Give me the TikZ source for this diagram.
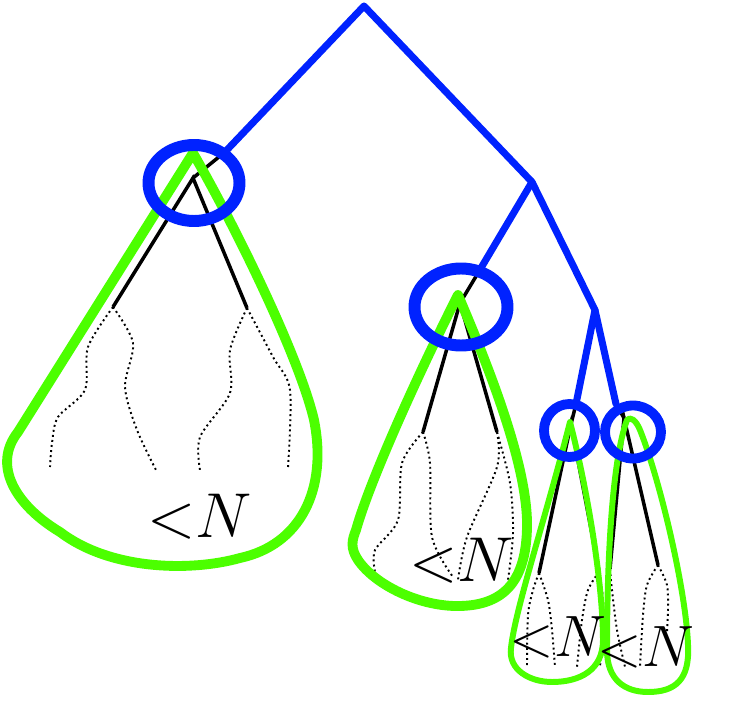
\documentclass[tikz,border=0pt]{standalone}
\definecolor{tblue}{RGB}{0,34,255}
\definecolor{tgreen}{RGB}{76,255,0}
\tikzset{
  blueline/.style={tblue, line width=4pt, line cap=round, line join=round},
  ring/.style={tblue, line width=6.8pt},
  smallring/.style={tblue, line width=5.6pt},
  blackline/.style={black, line width=2pt},
  dotline/.style={black, line width=1.1pt, dash pattern=on 1.1pt off 1.8pt},
  bigbag/.style={tgreen, line width=5.6pt, line join=round},
  smallbag/.style={tgreen, line width=3.4pt, line join=round},
  lbl/.style={inner sep=0pt, scale=1.45, font=\Huge},
}
\begin{document}
\begin{tikzpicture}[x=0.02cm,y=-0.02cm]
\useasboundingbox (0,0) rectangle (731,706);
% blue skeleton points
\coordinate (r) at (364,6);
\coordinate (bA) at (225,152);
\coordinate (bR) at (532,182);
\coordinate (bB) at (481,268);
\coordinate (bS) at (595,310);
\coordinate (bC) at (576,404);
\coordinate (bD) at (616,404);
% black tree apices and leaves
\coordinate (a1) at (193,178);
\coordinate (l1a) at (113,307);
\coordinate (l1b) at (247,308);
\coordinate (a2) at (460,303);
\coordinate (l2a) at (423,432);
\coordinate (l2b) at (497,432);
\coordinate (a3) at (571,424);
\coordinate (l3a) at (539,573);
\coordinate (l3b) at (599,571);
\coordinate (a4) at (624,418);
\coordinate (l4a) at (610,569);
\coordinate (l4b) at (658,565);

% dotted subtrees
\draw[dotline] plot[smooth] coordinates {(113,307) (88,347) (85,390) (58,417) (52,443) (50,467)};
\draw[dotline] plot[smooth] coordinates {(113,307) (133,343) (125,387) (137,430) (157,472)};
\draw[dotline] plot[smooth] coordinates {(247,308) (230,350) (230,393) (200,437) (200,470)};
\draw[dotline] plot[smooth] coordinates {(247,308) (273,357) (290,390) (288,468)};
\draw[dotline] plot[smooth] coordinates {(423,432) (402,463) (398,520) (375,550) (375,572)};
\draw[dotline] plot[smooth] coordinates {(423,432) (430,463) (432,537) (453,577)};
\draw[dotline] plot[smooth] coordinates {(497,432) (497,467) (467,537) (458,580)};
\draw[dotline] plot[smooth] coordinates {(497,432) (510,483) (513,533) (508,580)};
\draw[dotline] plot[smooth] coordinates {(539,573) (533,590) (528,615) (527,665)};
\draw[dotline] plot[smooth] coordinates {(539,573) (548,600) (552,630) (555,667)};
\draw[dotline] plot[smooth] coordinates {(599,572) (588,590) (582,620) (577,667)};
\draw[dotline] plot[smooth] coordinates {(599,572) (603,600) (602,640) (600,667)};
\draw[dotline] plot[smooth] coordinates {(610,569) (612,590) (617,630) (625,667)};
\draw[dotline] plot[smooth] coordinates {(610,569) (606,610) (608,667)};
\draw[dotline] plot[smooth] coordinates {(658,565) (647,585) (643,615) (640,667)};
\draw[dotline] plot[smooth] coordinates {(658,565) (667,585) (668,610) (667,632)};

% black trees
\draw[blackline] (bA) -- (a1);
\draw[blackline] (l1a) -- (a1) -- (l1b);
\draw[blackline] (bB) -- (a2);
\draw[blackline] (l2a) -- (a2) -- (l2b);
\draw[blackline] (bC) -- (a3);
\draw[blackline] (l3a) -- (a3) -- (l3b);
\draw[blackline] (bD) -- (a4);
\draw[blackline] (l4a) -- (a4) -- (l4b);

% green bags
\draw[bigbag] (193,153) .. controls (240,235) and (300,360) .. (314,420)
  .. controls (328,490) and (300,545) .. (240,558)
  .. controls (190,572) and (110,570) .. (60,532)
  .. controls (15,505) and (-8,465) .. (18,432) -- cycle;
\draw[bigbag] (458,295) .. controls (490,370) and (525,460) .. (527,520)
  .. controls (528,580) and (505,605) .. (460,606)
  .. controls (420,607) and (375,585) .. (358,560)
  .. controls (350,548) and (352,540) .. (356,530)
  .. controls (370,480) and (420,370) .. cycle;
\draw[smallbag] (570,422) .. controls (545,520) and (515,610) .. (511,648)
  .. controls (508,670) and (530,682) .. (552,682)
  .. controls (580,682) and (603,670) .. (603,640)
  .. controls (603,590) and (590,500) .. cycle;
\draw[smallbag] (627,420) .. controls (612,460) and (607,560) .. (607,650)
  .. controls (607,680) and (625,692) .. (648,692)
  .. controls (675,692) and (690,680) .. (688,645)
  .. controls (686,590) and (660,480) .. (640,430)
  .. controls (636,420) and (630,416) .. cycle;

% blue skeleton
\draw[blueline] (bA) -- (r) -- (bR) -- (bB);
\draw[blueline] (bR) -- (bS) -- (bC);
\draw[blueline] (bS) -- (bD);
\draw[ring] (194,183) ellipse [x radius=45.5, y radius=38];
\draw[ring] (461,307) ellipse [x radius=46.5, y radius=38.5];
\draw[smallring] (569.5,430.5) ellipse [x radius=25.5, y radius=26.5];
\draw[smallring] (633,432) ellipse [x radius=28, y radius=26.5];

% labels
\node[lbl] (t1) at (200,517) {${<}N$};
\node[lbl] (t2) at (462,561) {${<}N$};
\node[lbl, scale=0.92] (t3) at (558,637) {${<}N$};
\node[lbl, scale=0.92] (t4) at (646,647) {${<}N$};
\end{tikzpicture}
\end{document}
